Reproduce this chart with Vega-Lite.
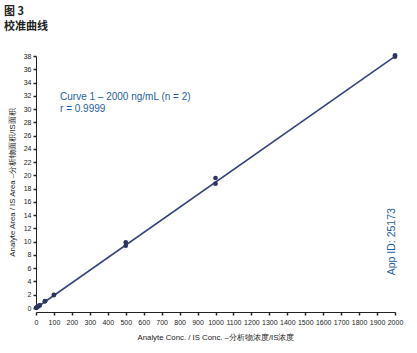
{
  "$schema": "https://vega.github.io/schema/vega-lite/v6.json",
  "width": 359,
  "height": 252,
  "autosize": {"type": "none"},
  "padding": {"left": 36, "top": 56, "right": 22, "bottom": 45},
  "background": "white",
  "config": {
    "view": {"stroke": null},
    "font": "Liberation Sans",
    "axis": {"grid": false, "domainColor": "#222222", "tickColor": "#222222", "labelColor": "#222222", "titleColor": "#222222", "labelFont": "Liberation Sans", "titleFont": "Liberation Sans", "labelFontSize": 7, "titleFontSize": 7.8, "titleFontWeight": "normal", "tickSize": 3, "domainWidth": 1, "tickWidth": 1.5, "labelOverlap": false, "labelBound": false}
  },
  "title": {
    "text": ["图 3", "校准曲线"],
    "anchor": "start",
    "font": "Noto Sans CJK SC",
    "fontSize": 11,
    "fontWeight": "bold",
    "lineHeight": 15,
    "color": "#222222",
    "frame": "group",
    "dx": -32,
    "offset": 20
  },
  "datasets": {
    "pts": [
      {"conc": 1, "ratio": 0.02},
      {"conc": 2, "ratio": 0.04},
      {"conc": 5, "ratio": 0.1},
      {"conc": 10, "ratio": 0.19},
      {"conc": 20, "ratio": 0.38},
      {"conc": 20, "ratio": 0.4},
      {"conc": 50, "ratio": 1.0},
      {"conc": 50, "ratio": 1.05},
      {"conc": 100, "ratio": 1.95},
      {"conc": 100, "ratio": 2.0},
      {"conc": 500, "ratio": 9.4},
      {"conc": 500, "ratio": 9.9},
      {"conc": 1000, "ratio": 18.75},
      {"conc": 1000, "ratio": 19.6},
      {"conc": 2000, "ratio": 37.9},
      {"conc": 2000, "ratio": 38.1}
    ],
    "fit": [
      {"conc": 0, "ratio": 0.0},
      {"conc": 2000, "ratio": 37.95}
    ],
    "notes": [
      {"conc": 134, "ratio": 31.8, "label": "Curve 1 – 2000 ng/mL (n = 2)"},
      {"conc": 134, "ratio": 30.0, "label": "r = 0.9999"}
    ],
    "app": [
      {"conc": 1983, "ratio": 10, "label": "App ID: 25173"}
    ]
  },
  "encoding": {
    "x": {"field": "conc", "type": "quantitative", "scale": {"domain": [0, 2000], "nice": false},
      "axis": {"values": [0,100,200,300,400,500,600,700,800,900,1000,1100,1200,1300,1400,1500,1600,1700,1800,1900,2000], "format": "d", "title": "Analyte Conc. / IS Conc. –分析物浓度/IS浓度", "offset": 4, "labelPadding": 3, "titlePadding": 8, "labelFlush": false}},
    "y": {"field": "ratio", "type": "quantitative", "scale": {"domain": [0, 38], "nice": false},
      "axis": {"values": [0,2,4,6,8,10,12,14,16,18,20,22,24,26,28,30,32,34,36,38], "format": "d", "title": "Analyte Area / IS Area –分析物面积/IS面积", "labelPadding": 2, "titlePadding": 7, "labelFlush": false}}
  },
  "layer": [
    {
      "data": {"name": "fit"},
      "mark": {"type": "line", "color": "#34457a", "strokeWidth": 1.6}
    },
    {
      "data": {"name": "pts"},
      "mark": {"type": "circle", "color": "#2b3560", "opacity": 1, "size": 22}
    },
    {
      "data": {"name": "notes"},
      "mark": {"type": "text", "align": "left", "baseline": "middle", "fontSize": 10, "color": "#1f5f9e", "font": "Liberation Sans"},
      "encoding": {
        "text": {"field": "label"}
      }
    },
    {
      "data": {"name": "app"},
      "mark": {"type": "text", "align": "center", "baseline": "middle", "angle": 270, "fontSize": 10.5, "color": "#1f5f9e", "font": "Liberation Sans"},
      "encoding": {
        "text": {"field": "label"}
      }
    }
  ]
}
